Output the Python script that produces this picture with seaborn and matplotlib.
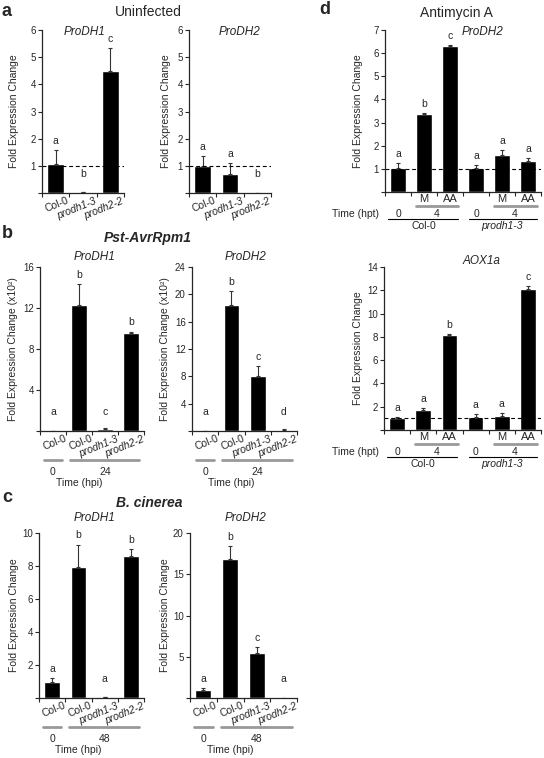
import numpy as np
import pandas as pd
import seaborn as sns
import matplotlib
matplotlib.use('Agg')
import matplotlib.pyplot as plt
import matplotlib.transforms as mtransforms

# a: uninfected
a_genotypes = ['Col-0', 'prodh1-3', 'prodh2-2']
a_prodh1 = [1.07, 0.03, 4.5]
a_prodh1_err = [0.5, 0.0, 0.85]
a_prodh1_letters = ['a', 'b', 'c']
a_prodh2 = [1.0, 0.7, 0.01]
a_prodh2_err = [0.35, 0.4, 0.0]
a_prodh2_letters = ['a', 'a', 'b']

# b: Pst-AvrRpm1 (x10^2), c: B. cinerea
bc_genotypes = ['Col-0', 'Col-0', 'prodh1-3', 'prodh2-2']
b_prodh1 = [0.02, 12.3, 0.2, 9.6]
b_prodh1_err = [0.0, 2.0, 0.1, 0.1]
b_prodh1_letters = ['a', 'b', 'c', 'b']
b_prodh2 = [0.03, 18.5, 8.0, 0.2]
b_prodh2_err = [0.0, 2.0, 1.5, 0.1]
b_prodh2_letters = ['a', 'b', 'c', 'd']

c_prodh1 = [1.0, 7.95, 0.05, 8.6]
c_prodh1_err = [0.2, 1.35, 0.0, 0.45]
c_prodh1_letters = ['a', 'b', 'a', 'b']
c_prodh2 = [1.0, 16.8, 5.4, 0.05]
c_prodh2_err = [0.2, 1.6, 0.8, 0.0]
c_prodh2_letters = ['a', 'b', 'c', 'a']

# d: antimycin A
d_treatments = ['', 'M', 'AA', '', 'M', 'AA']
d_prodh2 = [1.05, 3.35, 6.3, 1.02, 1.62, 1.33]
d_prodh2_err = [0.22, 0.05, 0.05, 0.13, 0.2, 0.15]
d_prodh2_letters = ['a', 'b', 'c', 'a', 'a', 'a']
d_aox1a = [1.0, 1.72, 8.15, 1.1, 1.2, 12.15]
d_aox1a_err = [0.1, 0.2, 0.1, 0.25, 0.25, 0.25]
d_aox1a_letters = ['a', 'a', 'b', 'a', 'a', 'c']

W, H = 544, 758
sns.set_style('ticks')
plt.rcParams['font.family'] = ['Liberation Sans', 'DejaVu Sans']
plt.rcParams['axes.linewidth'] = 0.9

fig = plt.figure(figsize=(W / 100, H / 100), dpi=100)


def fy(y):
    return 1 - y / H


def make_axes(x0, y0, x1, y1):
    return fig.add_axes([x0 / W, 1 - y1 / H, (x1 - x0) / W, (y1 - y0) / H])


def draw_bars(ax, values, errors, letters, ymax, step):
    n = len(values)
    df = pd.DataFrame({'pos': np.arange(n), 'value': values, 'err': errors})
    sns.barplot(data=df, x='pos', y='value', color='black', saturation=1,
                width=0.6, errorbar=None, ax=ax)
    ax.errorbar(df['pos'], df['value'], yerr=[np.zeros(n), df['err']], fmt='none',
                ecolor='#333333', elinewidth=0.8, capsize=1.5, capthick=0.8)
    for x, v, e, t in zip(df['pos'], df['value'], df['err'], letters):
        ax.text(x, max(v + e, 0.06 * ymax) + 0.025 * ymax, t,
                ha='center', va='bottom', fontsize=7.5)
    ax.set_ylim(0, ymax)
    ticks = np.arange(0, ymax + step / 2, step)
    ax.set_yticks(ticks)
    ax.set_yticklabels([''] + [f'{t:g}' for t in ticks[1:]])
    ax.set_xlim(-0.5, n - 0.5)
    ax.set_xticks(np.arange(-0.5, n), minor=True)
    ax.tick_params(axis='x', which='major', length=0, pad=2)
    ax.tick_params(axis='x', which='minor', length=3, width=0.8, direction='out')
    ax.tick_params(axis='y', length=3, width=0.8, labelsize=7, pad=1.5)
    sns.despine(ax=ax)
    ax.set_xlabel('')
    ax.set_ylabel('')


def genotype_labels(ax, labels):
    ax.set_xticks(np.arange(len(labels)))
    ax.set_xticklabels(labels, rotation=22, ha='right', va='top',
                       rotation_mode='anchor', fontsize=7.5)
    shift = mtransforms.ScaledTranslation(0.11, 0, fig.dpi_scale_trans)
    for lab in ax.get_xticklabels():
        lab.set_transform(lab.get_transform() + shift)
        if lab.get_text() != 'Col-0':
            lab.set_style('italic')


def ylabel(ax, text, x_px, x0, x1):
    ax.set_ylabel(text, fontsize=7.5)
    ax.yaxis.set_label_coords((x_px + 5 - x0) / (x1 - x0), 0.5)


def time_hpi(ax, label, y_axis):
    trans = mtransforms.blended_transform_factory(ax.transData, fig.transFigure)
    for xs in ([-0.35, 0.35], [0.65, 3.3]):
        ax.plot(xs, [fy(y_axis + 29)] * 2, color='#999999', lw=2,
                transform=trans, clip_on=False)
    ax.text(0, fy(y_axis + 41), '0', ha='center', va='center', fontsize=7.5, transform=trans)
    ax.text(2, fy(y_axis + 41), label, ha='center', va='center', fontsize=7.5, transform=trans)
    ax.text(1, fy(y_axis + 52), 'Time (hpi)', ha='center', va='center', fontsize=7.5,
            transform=trans)


def time_hpt(ax, y_axis):
    ax.set_xticks(np.arange(len(d_treatments)))
    ax.set_xticklabels(d_treatments, fontsize=8)
    ax.tick_params(axis='x', which='major', pad=1.5)
    trans = mtransforms.blended_transform_factory(ax.transData, fig.transFigure)
    for xs in ([0.68, 2.31], [3.7, 5.35]):
        ax.plot(xs, [fy(y_axis + 14)] * 2, color='#999999', lw=2,
                transform=trans, clip_on=False)
    for xs in ([-0.38, 2.3], [2.73, 5.35]):
        ax.plot(xs, [fy(y_axis + 27)] * 2, color='black', lw=0.8,
                transform=trans, clip_on=False)
    for x, s in zip([0, 1.5, 3, 4.5], ['0', '4', '0', '4']):
        ax.text(x, fy(y_axis + 22), s, ha='center', va='center', fontsize=7.5,
                transform=trans)
    ax.text(1, fy(y_axis + 34), 'Col-0', ha='center', va='center', fontsize=7.5,
            transform=trans)
    ax.text(4, fy(y_axis + 34), 'prodh1-3', ha='center', va='center', fontsize=7.5,
            style='italic', transform=trans)
    fig.text(355 / W, fy(y_axis + 22), 'Time (hpt)', ha='center', va='center', fontsize=7.5)


# panel a
ax = make_axes(42, 30, 124, 193)
draw_bars(ax, a_prodh1, a_prodh1_err, a_prodh1_letters, 6, 1)
ax.axhline(1, ls='--', color='black', lw=0.8, dashes=(3.5, 2.5))
genotype_labels(ax, a_genotypes)
ylabel(ax, 'Fold Expression Change', 14, 42, 124)

ax = make_axes(189, 30, 271, 193)
draw_bars(ax, a_prodh2, a_prodh2_err, a_prodh2_letters, 6, 1)
ax.axhline(1, ls='--', color='black', lw=0.8, dashes=(3.5, 2.5))
genotype_labels(ax, a_genotypes)
ylabel(ax, 'Fold Expression Change', 166, 189, 271)

# panel b
ax = make_axes(40, 267, 144, 431)
draw_bars(ax, b_prodh1, b_prodh1_err, b_prodh1_letters, 16, 4)
genotype_labels(ax, bc_genotypes)
ylabel(ax, 'Fold Expression Change (x10²)', 13, 40, 144)
time_hpi(ax, '24', 431)

ax = make_axes(192, 267, 297, 431)
draw_bars(ax, b_prodh2, b_prodh2_err, b_prodh2_letters, 24, 4)
genotype_labels(ax, bc_genotypes)
ylabel(ax, 'Fold Expression Change (x10²)', 165, 192, 297)
time_hpi(ax, '24', 431)

# panel c
ax = make_axes(39, 533, 144, 698)
draw_bars(ax, c_prodh1, c_prodh1_err, c_prodh1_letters, 10, 2)
genotype_labels(ax, bc_genotypes)
ylabel(ax, 'Fold Expression Change', 14, 39, 144)
time_hpi(ax, '48', 698)

ax = make_axes(190, 533, 297, 698)
draw_bars(ax, c_prodh2, c_prodh2_err, c_prodh2_letters, 20, 5)
genotype_labels(ax, bc_genotypes)
ylabel(ax, 'Fold Expression Change', 165, 190, 297)
time_hpi(ax, '48', 698)

# panel d
ax = make_axes(385, 30, 541, 192)
draw_bars(ax, d_prodh2, d_prodh2_err, d_prodh2_letters, 7, 1)
ax.axhline(1, ls='--', color='black', lw=0.8, dashes=(3.5, 2.5))
time_hpt(ax, 192)
ylabel(ax, 'Fold Expression Change', 358, 385, 541)

ax = make_axes(384, 267, 541, 430)
draw_bars(ax, d_aox1a, d_aox1a_err, d_aox1a_letters, 14, 2)
ax.axhline(1, ls='--', color='black', lw=0.8, dashes=(3.5, 2.5))
time_hpt(ax, 430)
ylabel(ax, 'Fold Expression Change', 358, 384, 541)

# titles and panel letters
for x, y, s in [(7, 11, 'a'), (7, 234, 'b'), (7, 497, 'c'), (325, 10, 'd')]:
    fig.text(x / W, fy(y), s, ha='center', va='center', fontsize=13, fontweight='bold')
fig.text(148 / W, fy(12), 'Uninfected', ha='center', va='center', fontsize=10)
fig.text(148 / W, fy(238), 'Pst-AvrRpm1', ha='center', va='center', fontsize=10,
         fontweight='bold', style='italic')
fig.text(149 / W, fy(503), 'B. cinerea', ha='center', va='center', fontsize=10,
         fontweight='bold', style='italic')
fig.text(456 / W, fy(13), 'Antimycin A', ha='center', va='center', fontsize=10)
for x, y, s in [(85, 32, 'ProDH1'), (240, 32, 'ProDH2'), (95, 257, 'ProDH1'),
                (246, 257, 'ProDH2'), (95, 518, 'ProDH1'), (246, 518, 'ProDH2'),
                (483, 32, 'ProDH2'), (482, 261, 'AOX1a')]:
    fig.text(x / W, fy(y), s, ha='center', va='center', fontsize=8.5, style='italic')

fig.savefig('out.png', dpi=100)
